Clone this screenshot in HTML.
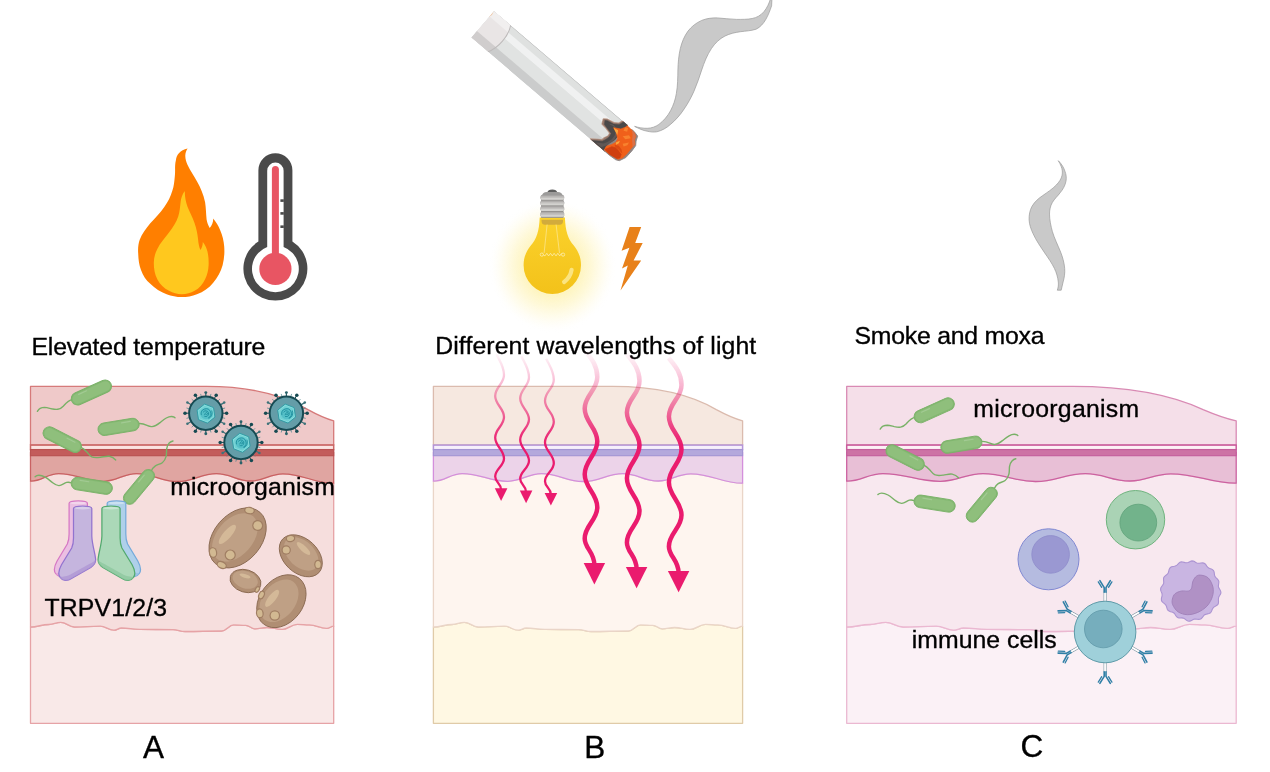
<!DOCTYPE html>
<html><head><meta charset="utf-8"><title>figure</title>
<style>
html,body{margin:0;padding:0;background:#fff;}
body{width:1270px;height:772px;overflow:hidden;}
svg{display:block;will-change:transform;}
text{font-family:"Liberation Sans",sans-serif;fill:#000;stroke:#000;stroke-width:0.35px;}
</style></head><body>
<svg width="1270" height="772" viewBox="0 0 1270 772">
<defs><radialGradient id="glow" cx="0.5" cy="0.5" r="0.5"><stop offset="0" stop-color="#fef4ba" stop-opacity="0.95"/><stop offset="0.45" stop-color="#fef4bc" stop-opacity="0.9"/><stop offset="0.62" stop-color="#fef5c2" stop-opacity="0.62"/><stop offset="0.78" stop-color="#fff7cc" stop-opacity="0.33"/><stop offset="0.9" stop-color="#fff9dc" stop-opacity="0.12"/><stop offset="1" stop-color="#ffffff" stop-opacity="0"/></radialGradient><linearGradient id="bulbg" x1="0" y1="0" x2="0" y2="1"><stop offset="0" stop-color="#fbd22c"/><stop offset="1" stop-color="#f3c21a"/></linearGradient><linearGradient id="screw" x1="0" y1="0" x2="1" y2="0"><stop offset="0" stop-color="#9c9c9c"/><stop offset="0.5" stop-color="#c4c4c4"/><stop offset="1" stop-color="#9c9c9c"/></linearGradient><clipPath id="cigclip"><path d="M0,-17.5 L176,-17.5 L176,17.5 L0,17.5 Z"/></clipPath><linearGradient id="wg1" gradientUnits="userSpaceOnUse" x1="0" y1="350" x2="0" y2="445"><stop offset="0" stop-color="#ea1b6e" stop-opacity="0"/><stop offset="0.2" stop-color="#ea1b6e" stop-opacity="0.17"/><stop offset="0.41" stop-color="#ea1b6e" stop-opacity="0.36"/><stop offset="0.61" stop-color="#ea1b6e" stop-opacity="0.57"/><stop offset="0.82" stop-color="#ea1b6e" stop-opacity="0.82"/><stop offset="1" stop-color="#ea1b6e" stop-opacity="1"/></linearGradient></defs>
<path d="M30.5,627.0 C38.1,627.0 41.1,624.5 48.7,624.5 C53.8,624.5 55.7,622.3 60.8,622.3 C66.6,622.3 68.7,627.0 74.5,627.0 C85.3,627.0 89.4,626.2 100.2,626.2 C106.0,626.2 108.1,630.2 113.9,630.2 C117.1,630.2 118.3,628.0 121.5,628.0 C129.1,628.0 132.0,629.4 139.7,629.4 C153.7,629.4 159.0,629.6 173.0,629.6 C178.1,629.6 180.0,631.5 185.1,631.5 C200.4,631.5 206.2,631.0 221.5,631.0 C226.6,631.0 228.6,624.9 233.6,624.9 C238.7,624.9 240.7,625.3 245.8,625.3 C249.6,625.3 251.0,628.8 254.9,628.8 C260.0,628.8 261.9,627.5 267.0,627.5 C273.4,627.5 275.8,629.4 282.2,629.4 C288.5,629.4 290.9,624.4 297.3,624.4 C302.4,624.4 304.4,624.9 309.4,624.9 C316.7,624.9 319.5,628.4 326.7,628.4 C329.7,628.4 330.8,626.2 333.7,626.2 L333.7,723.3 L30.5,723.3 Z" fill="#f9e9e8" stroke="#e6a3a6" stroke-width="1.3" stroke-linejoin="round"/><path d="M30.5,481.2 C42.3,481.2 46.9,473.6 58.7,473.6 C77.4,473.6 84.5,481.3 103.3,481.3 C117.3,481.3 122.6,473.6 136.6,473.6 C153.8,473.6 160.4,481.5 177.6,481.5 C193.9,481.5 200.1,473.6 216.4,473.6 C230.9,473.6 236.4,481.0 250.9,481.0 C264.3,481.0 269.4,473.8 282.8,473.8 C304.2,473.8 312.3,483.2 333.7,483.2 L333.7,626.2  C330.8,626.2 329.7,628.4 326.7,628.4 C319.5,628.4 316.7,624.9 309.4,624.9 C304.4,624.9 302.4,624.4 297.3,624.4 C290.9,624.4 288.5,629.4 282.2,629.4 C275.8,629.4 273.4,627.5 267.0,627.5 C261.9,627.5 260.0,628.8 254.9,628.8 C251.0,628.8 249.6,625.3 245.8,625.3 C240.7,625.3 238.7,624.9 233.6,624.9 C228.6,624.9 226.6,631.0 221.5,631.0 C206.2,631.0 200.4,631.5 185.1,631.5 C180.0,631.5 178.1,629.6 173.0,629.6 C159.0,629.6 153.7,629.4 139.7,629.4 C132.0,629.4 129.1,628.0 121.5,628.0 C118.3,628.0 117.1,630.2 113.9,630.2 C108.1,630.2 106.0,626.2 100.2,626.2 C89.4,626.2 85.3,627.0 74.5,627.0 C68.7,627.0 66.6,622.3 60.8,622.3 C55.7,622.3 53.8,624.5 48.7,624.5 C41.1,624.5 38.1,627.0 30.5,627.0 Z" fill="#f6dedd" stroke="#e6a3a6" stroke-width="1.3" stroke-linejoin="round"/><path d="M30.5,452 L333.7,452 L333.7,483.2  C312.3,483.2 304.2,473.8 282.8,473.8 C269.4,473.8 264.3,481.0 250.9,481.0 C236.4,481.0 230.9,473.6 216.4,473.6 C200.1,473.6 193.9,481.5 177.6,481.5 C160.4,481.5 153.8,473.6 136.6,473.6 C122.6,473.6 117.3,481.3 103.3,481.3 C84.5,481.3 77.4,473.6 58.7,473.6 C46.9,473.6 42.3,481.2 30.5,481.2 Z" fill="#e0a5a1" stroke="#c96263" stroke-width="1.3" stroke-linejoin="round"/><path d="M30.5,386.4 L206.4,386.4 C254.9,386.4 288.2,397.9 307.9,409.6 C318.5,415.4 327.6,419.2 333.7,420.8 L333.7,445 L30.5,445 Z" fill="#efc9c9" stroke="#d67a7a" stroke-width="1.3" stroke-linejoin="round"/><rect x="30.5" y="445.1" width="303.2" height="4.6" fill="#fbe3e1" stroke="#cb6766" stroke-width="1.5"/><rect x="30.5" y="449.6" width="303.2" height="6.1" fill="#c35c5b" stroke="#b85150" stroke-width="1.1"/>
<path d="M433.4,627.0 C441.2,627.0 444.2,624.5 452.0,624.5 C457.1,624.5 459.1,622.3 464.3,622.3 C470.2,622.3 472.4,627.0 478.2,627.0 C489.3,627.0 493.5,626.2 504.5,626.2 C510.4,626.2 512.6,630.2 518.4,630.2 C521.7,630.2 522.9,628.0 526.2,628.0 C534.0,628.0 536.9,629.4 544.7,629.4 C559.0,629.4 564.4,629.6 578.7,629.6 C583.9,629.6 585.9,631.5 591.1,631.5 C606.7,631.5 612.6,631.0 628.2,631.0 C633.4,631.0 635.4,624.9 640.6,624.9 C645.8,624.9 647.7,625.3 652.9,625.3 C656.8,625.3 658.3,628.8 662.2,628.8 C667.4,628.8 669.4,627.5 674.6,627.5 C681.1,627.5 683.5,629.4 690.0,629.4 C696.5,629.4 699.0,624.4 705.5,624.4 C710.7,624.4 712.7,624.9 717.9,624.9 C725.3,624.9 728.1,628.4 735.5,628.4 C738.5,628.4 739.6,626.2 742.6,626.2 L742.6,723.3 L433.4,723.3 Z" fill="#fff8e3" stroke="#e0cba8" stroke-width="1.3" stroke-linejoin="round"/><path d="M433.4,481.2 C445.5,481.2 450.1,473.6 462.2,473.6 C481.2,473.6 488.5,481.3 507.6,481.3 C521.9,481.3 527.3,473.6 541.6,473.6 C559.2,473.6 565.8,481.5 583.4,481.5 C600.0,481.5 606.3,473.6 622.9,473.6 C637.7,473.6 643.4,481.0 658.2,481.0 C671.8,481.0 677.0,473.8 690.7,473.8 C712.5,473.8 720.8,483.2 742.6,483.2 L742.6,626.2  C739.6,626.2 738.5,628.4 735.5,628.4 C728.1,628.4 725.3,624.9 717.9,624.9 C712.7,624.9 710.7,624.4 705.5,624.4 C699.0,624.4 696.5,629.4 690.0,629.4 C683.5,629.4 681.1,627.5 674.6,627.5 C669.4,627.5 667.4,628.8 662.2,628.8 C658.3,628.8 656.8,625.3 652.9,625.3 C647.7,625.3 645.8,624.9 640.6,624.9 C635.4,624.9 633.4,631.0 628.2,631.0 C612.6,631.0 606.7,631.5 591.1,631.5 C585.9,631.5 583.9,629.6 578.7,629.6 C564.4,629.6 559.0,629.4 544.7,629.4 C536.9,629.4 534.0,628.0 526.2,628.0 C522.9,628.0 521.7,630.2 518.4,630.2 C512.6,630.2 510.4,626.2 504.5,626.2 C493.5,626.2 489.3,627.0 478.2,627.0 C472.4,627.0 470.2,622.3 464.3,622.3 C459.1,622.3 457.1,624.5 452.0,624.5 C444.2,624.5 441.2,627.0 433.4,627.0 Z" fill="#fef5ef" stroke="#ead5c8" stroke-width="1.3" stroke-linejoin="round"/><path d="M433.4,452 L742.6,452 L742.6,483.2  C720.8,483.2 712.5,473.8 690.7,473.8 C677.0,473.8 671.8,481.0 658.2,481.0 C643.4,481.0 637.7,473.6 622.9,473.6 C606.3,473.6 600.0,481.5 583.4,481.5 C565.8,481.5 559.2,473.6 541.6,473.6 C527.3,473.6 521.9,481.3 507.6,481.3 C488.5,481.3 481.2,473.6 462.2,473.6 C450.1,473.6 445.5,481.2 433.4,481.2 Z" fill="#ecd3e9" stroke="#d48fdc" stroke-width="1.3" stroke-linejoin="round"/><path d="M433.4,386.4 L612.7,386.4 C662.2,386.4 696.2,397.9 716.3,409.6 C727.1,415.4 736.4,419.2 742.6,420.8 L742.6,445 L433.4,445 Z" fill="#f6e8e0" stroke="#dbbbae" stroke-width="1.3" stroke-linejoin="round"/><rect x="433.4" y="445.1" width="309.20000000000005" height="4.6" fill="#f6f0fc" stroke="#b594d8" stroke-width="1.5"/><rect x="433.4" y="449.6" width="309.20000000000005" height="6.1" fill="#b4a8dc" stroke="#a394d3" stroke-width="1.1"/>
<path d="M846.7,627.0 C856.5,627.0 860.3,624.5 870.1,624.5 C876.6,624.5 879.1,622.3 885.7,622.3 C893.0,622.3 895.8,627.0 903.2,627.0 C917.1,627.0 922.4,626.2 936.3,626.2 C943.6,626.2 946.5,630.2 953.8,630.2 C957.9,630.2 959.5,628.0 963.6,628.0 C973.4,628.0 977.1,629.4 986.9,629.4 C1004.9,629.4 1011.8,629.6 1029.8,629.6 C1036.3,629.6 1038.8,631.5 1045.3,631.5 C1065.0,631.5 1072.5,631.0 1092.1,631.0 C1098.6,631.0 1101.1,624.9 1107.7,624.9 C1114.2,624.9 1116.7,625.3 1123.2,625.3 C1128.2,625.3 1130.0,628.8 1134.9,628.8 C1141.5,628.8 1144.0,627.5 1150.5,627.5 C1158.7,627.5 1161.8,629.4 1170.0,629.4 C1178.2,629.4 1181.3,624.4 1189.5,624.4 C1196.0,624.4 1198.5,624.9 1205.0,624.9 C1214.4,624.9 1217.9,628.4 1227.2,628.4 C1231.0,628.4 1232.4,626.2 1236.2,626.2 L1236.2,723.3 L846.7,723.3 Z" fill="#fbf1f6" stroke="#ebb8d1" stroke-width="1.3" stroke-linejoin="round"/><path d="M846.7,481.2 C861.9,481.2 867.7,473.6 882.9,473.6 C907.0,473.6 916.1,481.3 940.2,481.3 C958.2,481.3 965.0,473.6 983.0,473.6 C1005.1,473.6 1013.5,481.5 1035.6,481.5 C1056.5,481.5 1064.5,473.6 1085.5,473.6 C1104.1,473.6 1111.2,481.0 1129.9,481.0 C1147.0,481.0 1153.6,473.8 1170.8,473.8 C1198.2,473.8 1208.7,483.2 1236.2,483.2 L1236.2,626.2  C1232.4,626.2 1231.0,628.4 1227.2,628.4 C1217.9,628.4 1214.4,624.9 1205.0,624.9 C1198.5,624.9 1196.0,624.4 1189.5,624.4 C1181.3,624.4 1178.2,629.4 1170.0,629.4 C1161.8,629.4 1158.7,627.5 1150.5,627.5 C1144.0,627.5 1141.5,628.8 1134.9,628.8 C1130.0,628.8 1128.2,625.3 1123.2,625.3 C1116.7,625.3 1114.2,624.9 1107.7,624.9 C1101.1,624.9 1098.6,631.0 1092.1,631.0 C1072.5,631.0 1065.0,631.5 1045.3,631.5 C1038.8,631.5 1036.3,629.6 1029.8,629.6 C1011.8,629.6 1004.9,629.4 986.9,629.4 C977.1,629.4 973.4,628.0 963.6,628.0 C959.5,628.0 957.9,630.2 953.8,630.2 C946.5,630.2 943.6,626.2 936.3,626.2 C922.4,626.2 917.1,627.0 903.2,627.0 C895.8,627.0 893.0,622.3 885.7,622.3 C879.1,622.3 876.6,624.5 870.1,624.5 C860.3,624.5 856.5,627.0 846.7,627.0 Z" fill="#f8e8ef" stroke="#ebb8d1" stroke-width="1.3" stroke-linejoin="round"/><path d="M846.7,452 L1236.2,452 L1236.2,483.2  C1208.7,483.2 1198.2,473.8 1170.8,473.8 C1153.6,473.8 1147.0,481.0 1129.9,481.0 C1111.2,481.0 1104.1,473.6 1085.5,473.6 C1064.5,473.6 1056.5,481.5 1035.6,481.5 C1013.5,481.5 1005.1,473.6 983.0,473.6 C965.0,473.6 958.2,481.3 940.2,481.3 C916.1,481.3 907.0,473.6 882.9,473.6 C867.7,473.6 861.9,481.2 846.7,481.2 Z" fill="#e8bfd6" stroke="#cc62a0" stroke-width="1.3" stroke-linejoin="round"/><path d="M846.7,386.4 L1072.6,386.4 C1134.9,386.4 1177.8,397.9 1203.1,409.6 C1216.7,415.4 1228.4,419.2 1236.2,420.8 L1236.2,445 L846.7,445 Z" fill="#f5dfe9" stroke="#d98ab4" stroke-width="1.3" stroke-linejoin="round"/><rect x="846.7" y="445.1" width="389.5" height="4.6" fill="#fdf1f6" stroke="#ca5c9c" stroke-width="1.5"/><rect x="846.7" y="449.6" width="389.5" height="6.1" fill="#cd72a5" stroke="#c45d9c" stroke-width="1.1"/>
<text x="31.4" y="354.8" font-size="24.8" textLength="234" lengthAdjust="spacing" text-anchor="start">Elevated temperature</text>
<text x="435.2" y="353.6" font-size="24.8" textLength="321" lengthAdjust="spacing" text-anchor="start">Different wavelengths of light</text>
<text x="854.5" y="344.4" font-size="24.8" textLength="190" lengthAdjust="spacing" text-anchor="start">Smoke and moxa</text>
<text x="170.2" y="495.3" font-size="24.8" textLength="164.6" lengthAdjust="spacing" text-anchor="start">microorganism</text>
<text x="973.2" y="416.7" font-size="24.8" textLength="166" lengthAdjust="spacing" text-anchor="start">microorganism</text>
<text x="44.4" y="615.8" font-size="24.8" textLength="122.6" lengthAdjust="spacing" text-anchor="start">TRPV1/2/3</text>
<text x="911.8" y="647.6" font-size="24.8" textLength="144.9" lengthAdjust="spacing" text-anchor="start">immune cells</text>
<text x="143.1" y="758" font-size="31.5" text-anchor="start">A</text>
<text x="584.3" y="758.1" font-size="31.5" text-anchor="start">B</text>
<text x="1020.5" y="757.2" font-size="31.5" text-anchor="start">C</text>
<path d="M187.6,148.6 C180,150 176.5,155 175.9,160.3 C174.5,166 175.5,171 174.8,176.6 C174.3,182 174,186 172.4,190.6 C170.5,197 168,202 164.3,206.9 C160,213 155,218 150.3,223.2 C146,228.5 142,233.5 139.8,239.6 C138.2,244 137.8,249 138.2,253.5 C138.4,259.5 139,265 141,269.9 C143,275.5 146,280 150.3,283.8 C155,288.5 160.5,292 166.6,294.3 C171.5,296.2 176.5,297.1 181.8,297.1 C187,297.1 192,296.3 196.9,294.3 C203.5,291.8 209,288 213.2,282.7 C217.5,277.5 220.8,271.8 222.6,265.2 C224.2,259 224.7,252.8 224.2,246.6 C223.8,241 222.5,235.5 220.2,230.2 C218.5,226 216,222 213.2,218.6 C213.3,222 212,225.3 209.7,227.9 C208,225 207.2,222.5 206.6,219.5 C206,213.5 206,208 205.1,202.3 C203.5,194.5 200.5,187.5 196.9,181.3 C194,176 190.3,170.8 187.6,165 C186.2,162 185.2,159 185.3,155.6 C185.4,152.8 186.3,150.5 187.6,148.6 Z" fill="#ff7f00"/><path d="M184.8,191.1 C182.2,194.5 181,198.3 180.6,202.3 C180,207 179.8,211.5 178.3,216.2 C176.3,222.3 172.8,227.5 169,232.6 C165,238 160.3,243 157.3,248.9 C155,253.3 153.8,258 153.8,262.9 C153.8,268.8 154.8,274.3 157.3,279.2 C160,284.5 164,288.3 169,290.8 C173,292.9 177.3,294.3 181.8,294.3 C186.4,294.3 190.7,293 194.6,290.8 C199.2,288.2 202.8,284.3 205.1,279.2 C207.2,274.8 208.4,270.2 208.6,265.2 C208.8,260.4 208.5,255.7 207.4,251.2 C206.5,247.7 204.9,244.6 202.8,241.9 C202.8,245 202,247.7 200.4,250 C199,246.7 198.4,243.2 198.1,239.6 C197.5,233.8 196.5,228.4 194.6,223.2 C192.7,217.5 189.8,212.3 187.6,206.9 C185.8,202 184.7,196.8 184.8,191.1 Z" fill="#ffc81e"/><path d="M258.4,170.3 A17,17 0 0 1 292.4,170.3 L292.4,241.5 A32,32 0 1 1 258.4,241.5 Z" fill="#4a4a4a"/><path d="M267.2,170.8 A8.2,8.2 0 0 1 283.59999999999997,170.8 L283.59999999999997,247 A23.4,23.4 0 1 1 267.2,247 Z" fill="#ffffff"/><circle cx="275.4" cy="268.9" r="16.1" fill="#e85563"/><path d="M271.9,169.6 A3.5,3.5 0 0 1 278.9,169.6 L278.9,260 L271.9,260 Z" fill="#e85563"/><rect x="280.4" y="199.29999999999998" width="3.4" height="2.6" fill="#4a4a4a"/><rect x="280.4" y="212.1" width="3.4" height="2.6" fill="#4a4a4a"/><rect x="280.4" y="225.39999999999998" width="3.4" height="2.6" fill="#4a4a4a"/><ellipse cx="552.5" cy="266" rx="64" ry="67" fill="url(#glow)"/><path d="M539.6999999999999,217.4 L564.9,217.4 C565.5,231 567.8,238.5 573.8,245.5 C578.3,251 581.0,257.5 581.0,265.2 A28.7,28.7 0 0 1 523.5999999999999,265.2 C523.5999999999999,257.5 526.3,251 530.8,245.5 C536.8,238.5 539.0999999999999,231 539.6999999999999,217.4 Z" fill="url(#bulbg)"/><path d="M541.5,219.7 L563.0999999999999,219.7 L563.0,221.8 Q562.5999999999999,224.7 559.8,224.7 L544.8,224.7 Q542.0,224.7 541.5999999999999,221.8 Z" fill="#d2ab3c"/><path d="M547.0999999999999,224.6 L544.0999999999999,253 M556.0999999999999,224.6 L559.5,253" stroke="#fbe48a" stroke-width="0.8" fill="none"/><path d="M543.0999999999999,254.6 L544.9,255.9 L546.8,253.3 L548.6,255.9 L550.5,253.3 L552.3,255.9 L554.1,253.3 L556.0,255.9 L557.8,253.3 L559.7,255.9 L561.5,253.3 " stroke="#fdeeb0" stroke-width="0.8" fill="none"/><circle cx="541.8" cy="254.6" r="1.6" fill="none" stroke="#fdeeb0" stroke-width="0.8"/><circle cx="563.0999999999999" cy="254.6" r="1.6" fill="none" stroke="#fdeeb0" stroke-width="0.8"/><path d="M571.5999999999999,269.8 C570.9,274.5 568.0999999999999,279 564.0999999999999,282" stroke="#fbe480" stroke-width="4.2" stroke-linecap="round" fill="none"/><path d="M547.3,192.6 Q547.9,189.5 552.3,189.5 Q556.6999999999999,189.5 557.3,192.6 Z" fill="#5e5e5e"/><path d="M541.6999999999999,196 Q542.6999999999999,191.9 546.8,191.9 L557.8,191.9 Q561.9,191.9 562.9,196 Z" fill="#9b9a99"/><rect x="541.0999999999999" y="195.2" width="22.4" height="22.6" fill="#8d8b89"/><rect x="540.3" y="195.2" width="24" height="4.5" rx="1.8" fill="#aeacaa"/><rect x="540.5999999999999" y="197.4" width="23.4" height="2.3" rx="1.2" fill="#d3d2cf"/><rect x="540.5999999999999" y="196.5" width="23.4" height="1.4" fill="#c2c0be"/><rect x="540.3" y="200.4" width="24" height="5.1" rx="1.8" fill="#aeacaa"/><rect x="540.5999999999999" y="202.8" width="23.4" height="2.5" rx="1.2" fill="#d3d2cf"/><rect x="540.5999999999999" y="201.9" width="23.4" height="1.5" fill="#c2c0be"/><rect x="540.3" y="206.2" width="24" height="4.8" rx="1.8" fill="#aeacaa"/><rect x="540.5999999999999" y="208.5" width="23.4" height="2.4" rx="1.2" fill="#d3d2cf"/><rect x="540.5999999999999" y="207.6" width="23.4" height="1.4" fill="#c2c0be"/><rect x="540.3" y="211.7" width="24" height="5.3" rx="1.8" fill="#aeacaa"/><rect x="540.5999999999999" y="214.2" width="23.4" height="2.6" rx="1.2" fill="#d3d2cf"/><rect x="540.5999999999999" y="213.3" width="23.4" height="1.6" fill="#c2c0be"/><path d="M629.6,227 L641.2,227 L635.2,243 L642.7,243 L633.6,260.6 L641.2,260.6 L620.5,290.6 L627.8,265.6 L622,268.4 L629.4,247.8 L621.6,250.8 Z" fill="#e8811a"/><path d="M634.6,126.4 C639,128.6 643,130.6 647.2,131.2 C650.5,132 653.8,132.3 656.9,131.8 C662,130.5 666.5,128 670.5,124.4 C676,119.8 680.5,114.5 684.2,108.9 C688,103.3 691.2,97.5 693.9,91.4 C697,84.4 699.3,77.2 701.7,70 C704.2,62.6 707,55.2 711.4,48.6 C715,43.2 719.5,38.8 725,36 C730,33.6 735.3,32.4 740.5,31.7 C745.8,31 751.3,30.8 756.1,29.2 C760.3,27.2 763.4,23.6 765.8,19.4 C768.3,15.2 770,10.5 771.6,5.8 L772,-2 L770.7,-2 C769.2,3.4 767,8 763.9,11.7 C760.7,15.5 756.8,17.6 752.2,18.5 C747,19.5 741.8,19.4 736.6,19.4 C730,19.3 723.6,18.2 717.2,17.9 C711.8,17.7 706.5,18.5 701.7,20.4 C696.3,22.8 691.6,26.4 688,31.1 C684.3,36.2 681.8,42.2 680.3,48.6 C678.7,55.6 678.1,62.8 677.9,70 C677.8,77.8 677.7,85.6 676.4,93.3 C675.4,99.5 673.4,105.4 670.5,110.8 C667.5,116.3 663.6,120.8 658.9,124.4 C655.5,126.8 651.5,128.2 647.2,128.3 C643,128.4 638.8,127.6 634.6,126.4 Z" fill="#c9c9c9" stroke="#9b9b9b" stroke-width="0.7"/><path d="M1058.3,160.7 C1061.5,163.8 1063.8,167.5 1065,171.4 C1066.2,174.5 1066.6,177.8 1066,181.1 C1065.2,185.5 1063,189.3 1060.2,192.7 C1057.7,196 1054.5,198.8 1052.4,202.4 C1050.3,206 1049.5,210 1049.5,214.1 C1049.6,220 1050.8,225.8 1052.4,231.6 C1054.4,238.2 1057.5,244.5 1060.2,251 C1062.5,256.6 1064.2,262.4 1064.7,268.4 C1065,273 1064.4,277.5 1063.1,282 C1062.4,284.8 1061.8,287.5 1061.2,290.2 L1057.3,290.2 C1058.3,287.5 1058.6,284.8 1058.3,282 C1057.8,277.2 1056.5,272.7 1054.4,268.4 C1051.8,263 1048.2,258 1044.7,252.9 C1040.5,246.6 1036,240.3 1033,233.5 C1031,229.2 1029.3,224.6 1029.1,219.9 C1028.9,215 1029.8,210.4 1032,206.3 C1034.6,201.8 1038.5,198.4 1042.7,195.6 C1047.3,192.3 1052.3,189.2 1056.3,185 C1059,182.2 1061.3,179 1062.1,175.2 C1062.7,172.2 1062.3,169.2 1061.2,166.5 C1060.5,164.5 1059.4,162.5 1058.3,160.7 Z" fill="#c9c9c9" stroke="#9b9b9b" stroke-width="0.7"/>
<g transform="translate(482.6,24.2) rotate(40.5)"><g clip-path="url(#cigclip)"><rect x="0" y="-17.5" width="176" height="35" fill="#e1e3e2"/><rect x="0" y="-17.5" width="176" height="7.1" fill="#dfe1e0"/><rect x="0" y="-10.4" width="176" height="7.1" fill="#f0f1f1"/><rect x="0" y="-3.3" width="176" height="12.1" fill="#e1e3e2"/><rect x="0" y="8.8" width="176" height="8.7" fill="#cbcccc"/><rect x="0" y="-17.5" width="176" height="0.7" fill="#bdbdbd"/><path d="M0,-17.5 L22,-17.5 C27.5,-8 27.5,8 22,17.5 L0,17.5 Z" fill="#e9e5e5"/><path d="M0,-17.5 L22,-17.5 C23.6,-15 24.6,-12.8 25.2,-10.4 L0,-10.4 Z" fill="#f1efef"/><path d="M0,8.8 L25.6,8.8 C24.9,12 23.6,15 22,17.5 L0,17.5 Z" fill="#d0cdcd"/><path d="M22,-17.5 C27.5,-8 27.5,8 22,17.5" fill="none" stroke="#bdbaba" stroke-width="1"/><path d="M0,-17.5 L0,-9 L1.2,-13 Z" fill="#f0c8a8"/><path d="M169.9,-17.8 L168.4,-12.9 L163.8,-9.8 L156.8,-8.3 L154,-6.2 L156.1,-2.1 L161.3,-1.7 L167.9,-0.2 L168.6,3.4 L166.6,8.1 L166.4,10.6 L163,12.9 L157,17.5 L178,17.5 L178,-17.8 Z" fill="#bb9a89" stroke="#bb9a89" stroke-width="2.4" stroke-linejoin="round"/><path d="M169.9,-17.8 L168.4,-12.9 L163.8,-9.8 L156.8,-8.3 L154,-6.2 L156.1,-2.1 L161.3,-1.7 L167.9,-0.2 L168.6,3.4 L166.6,8.1 L166.4,10.6 L163,12.9 L157,17.5 L178,17.5 L178,-17.8 Z" fill="#957669" stroke="#957669" stroke-width="0.9" stroke-linejoin="round"/><path d="M170.8,-17.6 L169,-12.2 L164.4,-9.1 L157.4,-7.6 L155.5,-6.3 L157.8,-2.9 L162.2,-1.9 L168.9,-0.4 L169.5,3.8 L168.2,8.5 L167,11.3 L158.5,17.5 L178,17.5 L178,-17.6 Z" fill="#4b4949" stroke="#4b4949" stroke-width="0.5" stroke-linejoin="round"/><path d="M160,-6.2 L166,-7.4 L170.5,-5.2 L172.6,-1.5 L173,3.5 L171.5,8.5 L169.5,12 L163,16.5 L170,16.5 L174,10 L175.5,3 L174,-3 L170,-7.5 L165,-8.6 Z" fill="#6a5f5c" opacity="0.7"/></g><path d="M182,-17 L186.2,-16.6 L190.6,-15.6 L192.6,-10.8 L195.3,-7 L195.8,-0.3 L195.5,8.4 L192.6,15 L189.4,16.6 L181.4,17.3 L174.3,17.2 L174,10 Z" fill="#8e8584" stroke="#8e8584" stroke-width="0.8" stroke-linejoin="round"/><path d="M175.9,-16.8 L180.8,-16.5 L186.2,-15.8 L189.3,-14.3 L190.6,-10.6 L193.9,-7.5 L193.7,-1.4 L193.9,4.4 L193.4,10.8 L190.8,14.8 L186.6,15.4 L181.4,16.3 L174.3,16.6 L173.3,12.5 L176.3,7.6 L177.9,3.2 L177.2,-0.4 L172.1,-4.4 L166.8,-6.4 L173.2,-10.1 L175.4,-14.4 Z" fill="#f0601a" stroke="#f0601a" stroke-width="0.6" stroke-linejoin="round"/><path d="M174.4,15.8 L177.8,9.3 L181,7.6 L185,7.9 L190,9 L191.2,12.5 L189.2,15 L181.4,16.3 Z" fill="#cf3f10" stroke="#cf3f10" stroke-width="0.6" stroke-linejoin="round"/><path d="M178.5,6 L182.5,4 L187,5 L190.5,7.8 L185,7 L181,7.2 Z" fill="#dc4a12"/><path d="M182,-16.4 L186.2,-15.8 L189.3,-14.3 L190.6,-10.6 L193.9,-7.5 L193.9,-3.9 L188.9,-9.1 L185.7,-13.6 Z" fill="#d9714a"/><path d="M166.8,-6.4 L172,-7.3 L174.4,-3.3 L170.4,-4.7 Z M178.2,3.5 L180,-0.6 L181,2.1 L179.7,4.9 Z" fill="#fba63c"/><path d="M179.3,-5.7 L183.4,-10.7 L186.7,-9.6 L183.2,-5.3 Z M184.1,-0.1 L188.2,-5 L188.7,-1.9 L186.6,1.4 Z M175.4,-14.4 L178.1,-15.5 L179.8,-12.1 L176.4,-10.4 Z" fill="#f8822e"/></g><path d="M496.4,354.0 C499.1,360.0 504.0,366.0 504.0,375.0 C504.0,383.8 495.2,387.2 495.2,396.0 C495.2,404.8 504.0,408.2 504.0,417.0 C504.0,425.6 495.2,428.9 495.2,437.5 C495.2,446.3 504.0,449.7 504.0,458.5 C504.0,466.1 495.2,468.9 495.2,476.5 C495.2,482.5 501.0,483.0 501.0,489.5" fill="none" stroke="url(#wg1)" stroke-width="2.3"/><path d="M494.8,488.3 L507.4,488.3 L501.1,500.9 Z" fill="#ea1b6e"/><path d="M521.4,356.3 C524.1,362.3 529.0,368.3 529.0,377.3 C529.0,386.1 520.2,389.5 520.2,398.3 C520.2,407.1 529.0,410.5 529.0,419.3 C529.0,427.9 520.2,431.2 520.2,439.8 C520.2,448.6 529.0,452.0 529.0,460.8 C529.0,468.4 520.2,471.2 520.2,478.8 C520.2,484.8 526.0,485.3 526.0,491.8" fill="none" stroke="url(#wg1)" stroke-width="2.3"/><path d="M519.8,490.6 L532.4,490.6 L526.1,503.2 Z" fill="#ea1b6e"/><path d="M546.2,358.7 C548.9,364.7 553.8,370.7 553.8,379.7 C553.8,388.5 545.0,391.9 545.0,400.7 C545.0,409.5 553.8,412.9 553.8,421.7 C553.8,430.3 545.0,433.6 545.0,442.2 C545.0,451.0 553.8,454.4 553.8,463.2 C553.8,470.8 545.0,473.6 545.0,481.2 C545.0,487.2 550.8,487.7 550.8,494.2" fill="none" stroke="url(#wg1)" stroke-width="2.3"/><path d="M544.6,493.0 L557.2,493.0 L550.9,505.6 Z" fill="#ea1b6e"/><path d="M584.5,350.0 C589.0,356.0 597.3,364.0 597.3,377.0 C597.3,390.2 584.7,395.3 584.7,408.5 C584.7,422.3 597.3,427.5 597.3,441.3 C597.3,455.2 584.7,460.4 584.7,474.3 C584.7,488.1 597.3,493.4 597.3,507.2 C597.3,520.3 584.7,525.4 584.7,538.5 C584.7,548.5 594.4,552.0 594.4,565.0" fill="none" stroke="url(#wg1)" stroke-width="4.5"/><path d="M583.7,563.0 L605.1,563.0 L594.4,584.4 Z" fill="#ea1b6e"/><path d="M626.7,353.9 C631.2,359.9 639.5,367.9 639.5,380.9 C639.5,394.1 626.9,399.2 626.9,412.4 C626.9,426.2 639.5,431.4 639.5,445.2 C639.5,459.1 626.9,464.3 626.9,478.2 C626.9,492.0 639.5,497.3 639.5,511.1 C639.5,524.2 626.9,529.3 626.9,542.4 C626.9,552.4 636.6,555.9 636.6,568.9" fill="none" stroke="url(#wg1)" stroke-width="4.5"/><path d="M625.9,566.9 L647.3,566.9 L636.6,588.3 Z" fill="#ea1b6e"/><path d="M668.7,357.9 C673.2,363.9 681.5,371.9 681.5,384.9 C681.5,398.1 668.9,403.2 668.9,416.4 C668.9,430.2 681.5,435.4 681.5,449.2 C681.5,463.1 668.9,468.3 668.9,482.2 C668.9,496.0 681.5,501.3 681.5,515.1 C681.5,528.2 668.9,533.3 668.9,546.4 C668.9,556.4 678.6,559.9 678.6,572.9" fill="none" stroke="url(#wg1)" stroke-width="4.5"/><path d="M667.9,570.9 L689.3,570.9 L678.6,592.3 Z" fill="#ea1b6e"/><g id="bact"><path d="M72.5,399.6 C68.5,400 66,403 63.5,405.9 C61.5,408 60,409 57.8,409.3 C55.5,409.6 53.5,409.2 51.5,408.8 C49,408.2 47,407.5 44.6,407.4 C43,407.4 41.5,407.7 40.2,408.4 C39,409.1 38.1,410.2 37.4,411.3" fill="none" stroke="#78b166" stroke-width="1.4" stroke-linecap="round"/><path d="M138.5,423.6 C142,423.3 144.5,424.2 147,425.4 C148.6,426.2 150,426.8 152,426.6 C155,426.3 157.5,424.6 160,422.6 C162,421 164,419.3 166.3,418 C168.5,416.8 171,416.2 173,416.7 C173.8,416.9 174.5,417.2 175,417.7" fill="none" stroke="#78b166" stroke-width="1.4" stroke-linecap="round"/><path d="M81,447.4 C83.5,448.5 85.3,450.3 86.8,451.9 C88.5,453.8 89.8,455.8 91.8,456.9 C94.5,458.2 97.6,457.7 100.6,457.3 C103.6,456.9 106.6,455.8 109.4,456.3 C112,456.8 114.2,458.2 115.7,460" fill="none" stroke="#78b166" stroke-width="1.4" stroke-linecap="round"/><path d="M71.5,482.8 C69.8,482.2 68,482 66.6,482.4 C64,483.2 61.8,485.4 59,485.6 C56.6,485.7 54.6,484.3 52.7,482.8 C50,480.8 47.8,478.6 45.2,477.2 C43.2,476.1 41,475.3 38.9,475.3 C37.4,475.3 36,475.9 35.1,476.8" fill="none" stroke="#78b166" stroke-width="1.4" stroke-linecap="round"/><path d="M151.5,470.8 C152.4,468.4 153.6,467 155.4,465.8 C157.6,464.5 160.2,464.2 162.3,462.7 C164.4,461.2 165.5,458.8 166.1,456.4 C166.8,453.8 166.4,451.2 166.7,448.8 C167,446.6 167.8,444.6 169.2,443.1 C170.3,442 171.6,441.3 173,441" fill="none" stroke="#78b166" stroke-width="1.4" stroke-linecap="round"/><g transform="translate(91.4,392.5) rotate(-24.3)"><rect x="-21.5" y="-6.3" width="43" height="12.6" rx="6.3" fill="#84b872" stroke="#7ab268" stroke-width="0.9"/><rect x="-20.2" y="-5.0" width="40.4" height="10.0" rx="5.0" fill="#8fbf7c"/><rect x="-13" y="-4.1" width="10" height="1.2" rx="0.6" fill="#a6cd98" opacity="0.8"/></g><g transform="translate(118.6,426.9) rotate(-9.3)"><rect x="-20.8" y="-6.3" width="41.6" height="12.6" rx="6.3" fill="#84b872" stroke="#7ab268" stroke-width="0.9"/><rect x="-19.5" y="-5.0" width="39.0" height="10.0" rx="5.0" fill="#8fbf7c"/><rect x="3" y="-4.1" width="10" height="1.2" rx="0.6" fill="#a6cd98" opacity="0.8"/></g><g transform="translate(62.3,439.7) rotate(27)"><rect x="-20.8" y="-6.3" width="41.6" height="12.6" rx="6.3" fill="#84b872" stroke="#7ab268" stroke-width="0.9"/><rect x="-19.5" y="-5.0" width="39.0" height="10.0" rx="5.0" fill="#8fbf7c"/><rect x="3" y="-4.1" width="10" height="1.2" rx="0.6" fill="#a6cd98" opacity="0.8"/></g><g transform="translate(91.8,485.8) rotate(9)"><rect x="-20.8" y="-6.3" width="41.6" height="12.6" rx="6.3" fill="#84b872" stroke="#7ab268" stroke-width="0.9"/><rect x="-19.5" y="-5.0" width="39.0" height="10.0" rx="5.0" fill="#8fbf7c"/><rect x="-13" y="-4.1" width="10" height="1.2" rx="0.6" fill="#a6cd98" opacity="0.8"/></g><g transform="translate(139,486.9) rotate(-50.2)"><rect x="-20.8" y="-6.3" width="41.6" height="12.6" rx="6.3" fill="#84b872" stroke="#7ab268" stroke-width="0.9"/><rect x="-19.5" y="-5.0" width="39.0" height="10.0" rx="5.0" fill="#8fbf7c"/><rect x="3" y="-4.1" width="10" height="1.2" rx="0.6" fill="#a6cd98" opacity="0.8"/></g></g><use href="#bact" transform="translate(842.8,17.8)"/><g transform="translate(205.8,413.2)"><line x1="0.0" y1="-16.7" x2="0.0" y2="-20.6" stroke="#2a626a" stroke-width="1.2"/><circle cx="0.0" cy="-20.6" r="1.45" fill="#2a626a"/><line x1="8.4" y1="-14.5" x2="10.4" y2="-18.0" stroke="#164a52" stroke-width="1"/><circle cx="10.4" cy="-18.0" r="1.75" fill="#164a52"/><line x1="14.5" y1="-8.3" x2="18.4" y2="-10.6" stroke="#3d7279" stroke-width="1.3"/><circle cx="18.4" cy="-10.6" r="1.25" fill="#3d7279"/><line x1="16.7" y1="0.0" x2="20.8" y2="0.0" stroke="#164a52" stroke-width="1"/><circle cx="20.8" cy="0.0" r="1.75" fill="#164a52"/><line x1="14.5" y1="8.3" x2="18.4" y2="10.6" stroke="#3d7279" stroke-width="1.3"/><circle cx="18.4" cy="10.6" r="1.25" fill="#3d7279"/><line x1="8.4" y1="14.5" x2="10.4" y2="18.0" stroke="#164a52" stroke-width="1"/><circle cx="10.4" cy="18.0" r="1.75" fill="#164a52"/><line x1="0.0" y1="16.7" x2="0.0" y2="20.6" stroke="#2a626a" stroke-width="1.2"/><circle cx="0.0" cy="20.6" r="1.45" fill="#2a626a"/><line x1="-8.3" y1="14.5" x2="-10.4" y2="18.0" stroke="#164a52" stroke-width="1"/><circle cx="-10.4" cy="18.0" r="1.75" fill="#164a52"/><line x1="-14.5" y1="8.3" x2="-18.4" y2="10.6" stroke="#3d7279" stroke-width="1.3"/><circle cx="-18.4" cy="10.6" r="1.25" fill="#3d7279"/><line x1="-16.7" y1="0.0" x2="-20.8" y2="0.0" stroke="#164a52" stroke-width="1"/><circle cx="-20.8" cy="0.0" r="1.75" fill="#164a52"/><line x1="-14.5" y1="-8.4" x2="-18.4" y2="-10.7" stroke="#3d7279" stroke-width="1.3"/><circle cx="-18.4" cy="-10.7" r="1.25" fill="#3d7279"/><line x1="-8.4" y1="-14.5" x2="-10.4" y2="-18.0" stroke="#164a52" stroke-width="1"/><circle cx="-10.4" cy="-18.0" r="1.75" fill="#164a52"/><line x1="4.3" y1="-16.1" x2="5.2" y2="-19.3" stroke="#4f868d" stroke-width="0.75"/><line x1="11.8" y1="-11.8" x2="14.1" y2="-14.1" stroke="#4f868d" stroke-width="0.75"/><line x1="16.1" y1="-4.3" x2="19.3" y2="-5.2" stroke="#4f868d" stroke-width="0.75"/><line x1="16.1" y1="4.3" x2="19.3" y2="5.2" stroke="#4f868d" stroke-width="0.75"/><line x1="11.8" y1="11.8" x2="14.1" y2="14.1" stroke="#4f868d" stroke-width="0.75"/><line x1="4.3" y1="16.1" x2="5.2" y2="19.3" stroke="#4f868d" stroke-width="0.75"/><line x1="-4.3" y1="16.1" x2="-5.2" y2="19.3" stroke="#4f868d" stroke-width="0.75"/><line x1="-11.8" y1="11.8" x2="-14.1" y2="14.1" stroke="#4f868d" stroke-width="0.75"/><line x1="-16.1" y1="4.3" x2="-19.3" y2="5.2" stroke="#4f868d" stroke-width="0.75"/><line x1="-16.1" y1="-4.3" x2="-19.3" y2="-5.2" stroke="#4f868d" stroke-width="0.75"/><line x1="-11.8" y1="-11.8" x2="-14.1" y2="-14.1" stroke="#4f868d" stroke-width="0.75"/><line x1="-4.3" y1="-16.1" x2="-5.2" y2="-19.3" stroke="#4f868d" stroke-width="0.75"/><circle r="16.7" fill="#649da8" stroke="#164a52" stroke-width="1.95"/><polygon points="-1.4,-9.5 7.5,-6.0 8.9,3.5 1.4,9.5 -7.5,6.0 -8.9,-3.5" fill="#86dcdc" stroke="#2a98a3" stroke-width="0.9" transform="translate(0.2,0.4)"/><polygon points="-1.2,-7.9 6.3,-5.0 7.4,2.9 1.2,7.9 -6.3,5.0 -7.4,-2.9" fill="#6fd0d3" transform="translate(0.2,0.4)"/><circle cx="0.2" cy="0.4" r="5.6" fill="#3fb3c0" opacity="0.55"/><path d="M-4.6,1.5 A4.9,4.9 0 1 1 2.5,4.8 M-2.6,-1.2 A3,3 0 1 1 -1,3.4 M-1.2,1.6 C-0.6,-0.4 0.6,-1.4 1.6,-0.2 C2.2,0.8 1.2,2 0.2,1.4 M3.2,5.2 A6.4,6.4 0 0 0 6,-2.4" fill="none" stroke="#1c8d9c" stroke-width="0.85" stroke-linecap="round"/></g><g transform="translate(241,442.4)"><line x1="0.0" y1="-16.7" x2="0.0" y2="-20.6" stroke="#2a626a" stroke-width="1.2"/><circle cx="0.0" cy="-20.6" r="1.45" fill="#2a626a"/><line x1="8.4" y1="-14.5" x2="10.4" y2="-18.0" stroke="#164a52" stroke-width="1"/><circle cx="10.4" cy="-18.0" r="1.75" fill="#164a52"/><line x1="14.5" y1="-8.3" x2="18.4" y2="-10.6" stroke="#3d7279" stroke-width="1.3"/><circle cx="18.4" cy="-10.6" r="1.25" fill="#3d7279"/><line x1="16.7" y1="0.0" x2="20.8" y2="0.0" stroke="#164a52" stroke-width="1"/><circle cx="20.8" cy="0.0" r="1.75" fill="#164a52"/><line x1="14.5" y1="8.3" x2="18.4" y2="10.6" stroke="#3d7279" stroke-width="1.3"/><circle cx="18.4" cy="10.6" r="1.25" fill="#3d7279"/><line x1="8.4" y1="14.5" x2="10.4" y2="18.0" stroke="#164a52" stroke-width="1"/><circle cx="10.4" cy="18.0" r="1.75" fill="#164a52"/><line x1="0.0" y1="16.7" x2="0.0" y2="20.6" stroke="#2a626a" stroke-width="1.2"/><circle cx="0.0" cy="20.6" r="1.45" fill="#2a626a"/><line x1="-8.3" y1="14.5" x2="-10.4" y2="18.0" stroke="#164a52" stroke-width="1"/><circle cx="-10.4" cy="18.0" r="1.75" fill="#164a52"/><line x1="-14.5" y1="8.3" x2="-18.4" y2="10.6" stroke="#3d7279" stroke-width="1.3"/><circle cx="-18.4" cy="10.6" r="1.25" fill="#3d7279"/><line x1="-16.7" y1="0.0" x2="-20.8" y2="0.0" stroke="#164a52" stroke-width="1"/><circle cx="-20.8" cy="0.0" r="1.75" fill="#164a52"/><line x1="-14.5" y1="-8.4" x2="-18.4" y2="-10.7" stroke="#3d7279" stroke-width="1.3"/><circle cx="-18.4" cy="-10.7" r="1.25" fill="#3d7279"/><line x1="-8.4" y1="-14.5" x2="-10.4" y2="-18.0" stroke="#164a52" stroke-width="1"/><circle cx="-10.4" cy="-18.0" r="1.75" fill="#164a52"/><line x1="4.3" y1="-16.1" x2="5.2" y2="-19.3" stroke="#4f868d" stroke-width="0.75"/><line x1="11.8" y1="-11.8" x2="14.1" y2="-14.1" stroke="#4f868d" stroke-width="0.75"/><line x1="16.1" y1="-4.3" x2="19.3" y2="-5.2" stroke="#4f868d" stroke-width="0.75"/><line x1="16.1" y1="4.3" x2="19.3" y2="5.2" stroke="#4f868d" stroke-width="0.75"/><line x1="11.8" y1="11.8" x2="14.1" y2="14.1" stroke="#4f868d" stroke-width="0.75"/><line x1="4.3" y1="16.1" x2="5.2" y2="19.3" stroke="#4f868d" stroke-width="0.75"/><line x1="-4.3" y1="16.1" x2="-5.2" y2="19.3" stroke="#4f868d" stroke-width="0.75"/><line x1="-11.8" y1="11.8" x2="-14.1" y2="14.1" stroke="#4f868d" stroke-width="0.75"/><line x1="-16.1" y1="4.3" x2="-19.3" y2="5.2" stroke="#4f868d" stroke-width="0.75"/><line x1="-16.1" y1="-4.3" x2="-19.3" y2="-5.2" stroke="#4f868d" stroke-width="0.75"/><line x1="-11.8" y1="-11.8" x2="-14.1" y2="-14.1" stroke="#4f868d" stroke-width="0.75"/><line x1="-4.3" y1="-16.1" x2="-5.2" y2="-19.3" stroke="#4f868d" stroke-width="0.75"/><circle r="16.7" fill="#649da8" stroke="#164a52" stroke-width="1.95"/><polygon points="-1.4,-9.5 7.5,-6.0 8.9,3.5 1.4,9.5 -7.5,6.0 -8.9,-3.5" fill="#86dcdc" stroke="#2a98a3" stroke-width="0.9" transform="translate(0.2,0.4)"/><polygon points="-1.2,-7.9 6.3,-5.0 7.4,2.9 1.2,7.9 -6.3,5.0 -7.4,-2.9" fill="#6fd0d3" transform="translate(0.2,0.4)"/><circle cx="0.2" cy="0.4" r="5.6" fill="#3fb3c0" opacity="0.55"/><path d="M-4.6,1.5 A4.9,4.9 0 1 1 2.5,4.8 M-2.6,-1.2 A3,3 0 1 1 -1,3.4 M-1.2,1.6 C-0.6,-0.4 0.6,-1.4 1.6,-0.2 C2.2,0.8 1.2,2 0.2,1.4 M3.2,5.2 A6.4,6.4 0 0 0 6,-2.4" fill="none" stroke="#1c8d9c" stroke-width="0.85" stroke-linecap="round"/></g><g transform="translate(286.4,413.2)"><line x1="0.0" y1="-16.7" x2="0.0" y2="-20.6" stroke="#2a626a" stroke-width="1.2"/><circle cx="0.0" cy="-20.6" r="1.45" fill="#2a626a"/><line x1="8.4" y1="-14.5" x2="10.4" y2="-18.0" stroke="#164a52" stroke-width="1"/><circle cx="10.4" cy="-18.0" r="1.75" fill="#164a52"/><line x1="14.5" y1="-8.3" x2="18.4" y2="-10.6" stroke="#3d7279" stroke-width="1.3"/><circle cx="18.4" cy="-10.6" r="1.25" fill="#3d7279"/><line x1="16.7" y1="0.0" x2="20.8" y2="0.0" stroke="#164a52" stroke-width="1"/><circle cx="20.8" cy="0.0" r="1.75" fill="#164a52"/><line x1="14.5" y1="8.3" x2="18.4" y2="10.6" stroke="#3d7279" stroke-width="1.3"/><circle cx="18.4" cy="10.6" r="1.25" fill="#3d7279"/><line x1="8.4" y1="14.5" x2="10.4" y2="18.0" stroke="#164a52" stroke-width="1"/><circle cx="10.4" cy="18.0" r="1.75" fill="#164a52"/><line x1="0.0" y1="16.7" x2="0.0" y2="20.6" stroke="#2a626a" stroke-width="1.2"/><circle cx="0.0" cy="20.6" r="1.45" fill="#2a626a"/><line x1="-8.3" y1="14.5" x2="-10.4" y2="18.0" stroke="#164a52" stroke-width="1"/><circle cx="-10.4" cy="18.0" r="1.75" fill="#164a52"/><line x1="-14.5" y1="8.3" x2="-18.4" y2="10.6" stroke="#3d7279" stroke-width="1.3"/><circle cx="-18.4" cy="10.6" r="1.25" fill="#3d7279"/><line x1="-16.7" y1="0.0" x2="-20.8" y2="0.0" stroke="#164a52" stroke-width="1"/><circle cx="-20.8" cy="0.0" r="1.75" fill="#164a52"/><line x1="-14.5" y1="-8.4" x2="-18.4" y2="-10.7" stroke="#3d7279" stroke-width="1.3"/><circle cx="-18.4" cy="-10.7" r="1.25" fill="#3d7279"/><line x1="-8.4" y1="-14.5" x2="-10.4" y2="-18.0" stroke="#164a52" stroke-width="1"/><circle cx="-10.4" cy="-18.0" r="1.75" fill="#164a52"/><line x1="4.3" y1="-16.1" x2="5.2" y2="-19.3" stroke="#4f868d" stroke-width="0.75"/><line x1="11.8" y1="-11.8" x2="14.1" y2="-14.1" stroke="#4f868d" stroke-width="0.75"/><line x1="16.1" y1="-4.3" x2="19.3" y2="-5.2" stroke="#4f868d" stroke-width="0.75"/><line x1="16.1" y1="4.3" x2="19.3" y2="5.2" stroke="#4f868d" stroke-width="0.75"/><line x1="11.8" y1="11.8" x2="14.1" y2="14.1" stroke="#4f868d" stroke-width="0.75"/><line x1="4.3" y1="16.1" x2="5.2" y2="19.3" stroke="#4f868d" stroke-width="0.75"/><line x1="-4.3" y1="16.1" x2="-5.2" y2="19.3" stroke="#4f868d" stroke-width="0.75"/><line x1="-11.8" y1="11.8" x2="-14.1" y2="14.1" stroke="#4f868d" stroke-width="0.75"/><line x1="-16.1" y1="4.3" x2="-19.3" y2="5.2" stroke="#4f868d" stroke-width="0.75"/><line x1="-16.1" y1="-4.3" x2="-19.3" y2="-5.2" stroke="#4f868d" stroke-width="0.75"/><line x1="-11.8" y1="-11.8" x2="-14.1" y2="-14.1" stroke="#4f868d" stroke-width="0.75"/><line x1="-4.3" y1="-16.1" x2="-5.2" y2="-19.3" stroke="#4f868d" stroke-width="0.75"/><circle r="16.7" fill="#649da8" stroke="#164a52" stroke-width="1.95"/><polygon points="-1.4,-9.5 7.5,-6.0 8.9,3.5 1.4,9.5 -7.5,6.0 -8.9,-3.5" fill="#86dcdc" stroke="#2a98a3" stroke-width="0.9" transform="translate(0.2,0.4)"/><polygon points="-1.2,-7.9 6.3,-5.0 7.4,2.9 1.2,7.9 -6.3,5.0 -7.4,-2.9" fill="#6fd0d3" transform="translate(0.2,0.4)"/><circle cx="0.2" cy="0.4" r="5.6" fill="#3fb3c0" opacity="0.55"/><path d="M-4.6,1.5 A4.9,4.9 0 1 1 2.5,4.8 M-2.6,-1.2 A3,3 0 1 1 -1,3.4 M-1.2,1.6 C-0.6,-0.4 0.6,-1.4 1.6,-0.2 C2.2,0.8 1.2,2 0.2,1.4 M3.2,5.2 A6.4,6.4 0 0 0 6,-2.4" fill="none" stroke="#1c8d9c" stroke-width="0.85" stroke-linecap="round"/></g>
<path d="M69.1,503.3 C69.1,500.1 87.4,500.1 87.4,503.3 L87.4,532 C87.7,541 90.60000000000001,548 91.2,555 C91.60000000000001,559 89.4,561.5 86.4,563.5 L67.1,574.8 C63.099999999999994,577.6 58.099999999999994,577.4 55.599999999999994,573.5 C53.099999999999994,570 54.599999999999994,565.5 57.099999999999994,561 L67.3,544 C68.69999999999999,541 69.1,538 69.1,534 Z" fill="#ebbfe2" stroke="#d678c4" stroke-width="1.25"/><path d="M91.0,556 C91.60000000000001,559 89.4,561.5 86.4,563.5 L67.1,574.8 C63.099999999999994,577.6 58.099999999999994,577.4 55.599999999999994,573.5 C57.099999999999994,572.5 61.099999999999994,573.4 65.6,571 L84.9,560 C87.9,558.5 89.80000000000001,557.5 91.0,556 Z" fill="#e0a0d4" opacity="0.75"/><ellipse cx="78.25" cy="502.90000000000003" rx="8.150000000000006" ry="1.4" fill="#ffffff" opacity="0.35"/><path d="M107.2,503.3 C107.2,500.1 125.8,500.1 125.8,503.3 L125.8,534 C125.8,538 126.2,541 127.6,544 L137.8,561 C140.3,565.5 141.8,570 139.3,573.5 C136.8,577.4 131.8,577.6 127.8,574.8 L108.2,563.5 C105.2,561.5 103.0,559 103.4,555 C104.0,548 106.9,541 107.2,532 Z" fill="#afd0ea" stroke="#74aadb" stroke-width="1.25"/><path d="M103.60000000000001,556 C103.0,559 105.2,561.5 108.2,563.5 L127.8,574.8 C131.8,577.6 136.8,577.4 139.3,573.5 C137.8,572.5 133.8,573.4 129.3,571 L109.7,560 C106.7,558.5 104.8,557.5 103.60000000000001,556 Z" fill="#96bfe2" opacity="0.75"/><ellipse cx="116.5" cy="502.90000000000003" rx="8.299999999999997" ry="1.4" fill="#ffffff" opacity="0.35"/><path d="M73.5,508.4 C73.5,505.2 91.8,505.2 91.8,508.4 L91.8,536 C92.1,545 95.0,552 95.6,559 C96.0,563 93.8,565.5 90.8,567.5 L71.5,578.5 C67.5,581.3000000000001 62.5,581.1 60.0,577.2 C57.5,573.7 59.0,569.2 61.5,564.7 L71.7,548 C73.1,545 73.5,542 73.5,538 Z" fill="#c5b5de" stroke="#9273cf" stroke-width="1.25"/><path d="M95.39999999999999,560 C96.0,563 93.8,565.5 90.8,567.5 L71.5,578.5 C67.5,581.3000000000001 62.5,581.1 60.0,577.2 C61.5,576.2 65.5,577.1 70.0,574.7 L89.3,564 C92.3,562.5 94.2,561.5 95.39999999999999,560 Z" fill="#ad95d3" opacity="0.75"/><ellipse cx="82.65" cy="508.0" rx="8.149999999999999" ry="1.4" fill="#ffffff" opacity="0.35"/><path d="M101.9,508.4 C101.9,505.2 120.1,505.2 120.1,508.4 L120.1,538 C120.1,542 120.5,545 121.89999999999999,548 L132.1,564.7 C134.6,569.2 136.1,573.7 133.6,577.2 C131.1,581.1 126.1,581.3000000000001 122.1,578.5 L102.9,567.5 C99.9,565.5 97.7,563 98.10000000000001,559 C98.7,552 101.60000000000001,545 101.9,536 Z" fill="#abd8b8" stroke="#52a96e" stroke-width="1.25"/><path d="M98.30000000000001,560 C97.7,563 99.9,565.5 102.9,567.5 L122.1,578.5 C126.1,581.3000000000001 131.1,581.1 133.6,577.2 C132.1,576.2 128.1,577.1 123.6,574.7 L104.4,564 C101.4,562.5 99.5,561.5 98.30000000000001,560 Z" fill="#8cc79e" opacity="0.75"/><ellipse cx="111.0" cy="508.0" rx="8.099999999999994" ry="1.4" fill="#ffffff" opacity="0.35"/><g transform="translate(237.6,537.9) rotate(-49)"><ellipse rx="34" ry="23.8" fill="#b08e73" stroke="#8a6a52" stroke-width="0.9"/><ellipse cx="-1.36" cy="-2.3800000000000003" rx="27.88" ry="18.088" fill="#bfa085"/><ellipse cx="-4.08" cy="-9.996" rx="12.24" ry="4.046" fill="#d4b998"/></g><g transform="translate(249.5,510.5) rotate(10)"><ellipse rx="5.4" ry="3.8" fill="#a07e63"/><ellipse rx="4.2" ry="2.6" fill="#d2b992"/></g><g transform="translate(257.7,525.5) rotate(0)"><ellipse rx="5.5" ry="5.5" fill="#a07e63"/><ellipse rx="4.3" ry="4.3" fill="#d2b992"/></g><g transform="translate(213,552.5) rotate(-10)"><ellipse rx="4.2" ry="5.4" fill="#a07e63"/><ellipse rx="3.0" ry="4.2" fill="#d2b992"/></g><g transform="translate(230.2,555) rotate(0)"><ellipse rx="5.6000000000000005" ry="5.6000000000000005" fill="#a07e63"/><ellipse rx="4.4" ry="4.4" fill="#d2b992"/></g><g transform="translate(221.7,565) rotate(25)"><ellipse rx="5.4" ry="3.8" fill="#a07e63"/><ellipse rx="4.2" ry="2.6" fill="#d2b992"/></g><g transform="translate(300.8,555.8) rotate(43)"><ellipse rx="24.7" ry="17.1" fill="#b08e73" stroke="#8a6a52" stroke-width="0.9"/><ellipse cx="-0.988" cy="-1.7100000000000002" rx="20.253999999999998" ry="12.996" fill="#bfa085"/><ellipse cx="-2.964" cy="-7.182" rx="8.892" ry="2.9070000000000005" fill="#d4b998"/></g><g transform="translate(290.5,538.5) rotate(-10)"><ellipse rx="4.8" ry="3.7" fill="#a07e63"/><ellipse rx="3.6" ry="2.5" fill="#d2b992"/></g><g transform="translate(286.2,550) rotate(0)"><ellipse rx="4.7" ry="4.7" fill="#a07e63"/><ellipse rx="3.5" ry="3.5" fill="#d2b992"/></g><g transform="translate(318,564.5) rotate(0)"><ellipse rx="3.8" ry="4.8" fill="#a07e63"/><ellipse rx="2.6" ry="3.6" fill="#d2b992"/></g><g transform="translate(245.5,581) rotate(17)"><ellipse rx="15.8" ry="11.2" fill="#b08e73" stroke="#8a6a52" stroke-width="0.9"/><ellipse cx="-0.632" cy="-1.1199999999999999" rx="12.956" ry="8.511999999999999" fill="#bfa085"/><ellipse cx="-1.896" cy="-4.704" rx="5.688" ry="1.904" fill="#d4b998"/></g><g transform="translate(257.3,589.5) rotate(35)"><ellipse rx="2.4" ry="3.5999999999999996" fill="#a07e63"/><ellipse rx="1.2" ry="2.4" fill="#d2b992"/></g><g transform="translate(281.4,601.2) rotate(-52)"><ellipse rx="29" ry="21.6" fill="#b08e73" stroke="#8a6a52" stroke-width="0.9"/><ellipse cx="-1.16" cy="-2.16" rx="23.779999999999998" ry="16.416" fill="#bfa085"/><ellipse cx="-3.48" cy="-9.072000000000001" rx="10.44" ry="3.6720000000000006" fill="#d4b998"/></g><g transform="translate(261.5,595) rotate(25)"><ellipse rx="3.2" ry="4.6" fill="#a07e63"/><ellipse rx="2.0" ry="3.4" fill="#d2b992"/></g><g transform="translate(259.8,613.3) rotate(-8)"><ellipse rx="3.9000000000000004" ry="5.0" fill="#a07e63"/><ellipse rx="2.7" ry="3.8" fill="#d2b992"/></g><g transform="translate(274.8,615.5) rotate(0)"><ellipse rx="5.3" ry="5.3" fill="#a07e63"/><ellipse rx="4.1" ry="4.1" fill="#d2b992"/></g><circle cx="1135.5" cy="519.7" r="29.2" fill="#aad3b5" stroke="#6fb37e" stroke-width="1"/><circle cx="1138.3" cy="522.6" r="18.4" fill="#72b38b" stroke="#5fa27a" stroke-width="0.8"/><circle cx="1048.5" cy="559.3" r="30.5" fill="#b5bbe0" stroke="#8088d2" stroke-width="1"/><circle cx="1050.6" cy="554.4" r="18.8" fill="#9a98d2" stroke="#8e8cca" stroke-width="0.8"/><path d="M1220.4,590.6 L1220.9,592.0 L1220.8,593.3 L1220.3,594.6 L1219.5,595.8 L1218.8,597.0 L1218.5,598.3 L1218.4,599.6 L1218.5,601.1 L1218.5,602.5 L1218.2,603.9 L1217.3,605.0 L1216.1,605.8 L1214.8,606.6 L1213.6,607.3 L1212.8,608.3 L1212.2,609.5 L1211.7,610.8 L1211.1,612.0 L1210.2,613.0 L1208.9,613.6 L1207.5,613.9 L1206.2,614.2 L1204.9,614.6 L1203.9,615.4 L1203.1,616.5 L1202.2,617.7 L1201.1,618.7 L1199.9,619.3 L1198.6,619.4 L1197.1,619.2 L1195.8,619.1 L1194.5,619.1 L1193.2,619.6 L1191.9,620.3 L1190.6,620.9 L1189.2,621.2 L1187.9,621.0 L1186.6,620.4 L1185.4,619.4 L1184.2,618.6 L1183.0,618.1 L1181.7,617.9 L1180.3,618.0 L1178.9,617.9 L1177.6,617.5 L1176.6,616.7 L1175.7,615.5 L1175.0,614.3 L1174.2,613.2 L1173.2,612.5 L1171.9,612.0 L1170.5,611.7 L1169.1,611.1 L1168.0,610.3 L1167.3,609.2 L1166.9,607.8 L1166.5,606.5 L1166.0,605.3 L1165.2,604.3 L1164.1,603.4 L1162.9,602.4 L1161.9,601.4 L1161.4,600.1 L1161.4,598.7 L1161.7,597.2 L1162.1,595.8 L1162.1,594.5 L1161.9,593.2 L1161.3,591.9 L1160.8,590.6 L1160.6,589.3 L1160.8,587.9 L1161.5,586.7 L1162.4,585.5 L1163.2,584.4 L1163.7,583.2 L1163.7,581.9 L1163.6,580.5 L1163.5,579.0 L1163.7,577.7 L1164.4,576.5 L1165.5,575.6 L1166.6,574.8 L1167.6,573.9 L1168.3,572.8 L1168.7,571.5 L1169.0,570.0 L1169.6,568.6 L1170.4,567.5 L1171.6,566.8 L1173.1,566.5 L1174.5,566.2 L1175.8,565.8 L1176.9,565.1 L1177.9,564.2 L1178.9,563.1 L1180.0,562.3 L1181.3,561.9 L1182.7,562.0 L1184.2,562.4 L1185.5,562.8 L1186.8,562.8 L1188.1,562.5 L1189.3,561.9 L1190.6,561.3 L1191.9,560.9 L1193.3,561.1 L1194.5,561.6 L1195.7,562.4 L1196.9,563.0 L1198.1,563.3 L1199.5,563.3 L1201.0,563.0 L1202.4,562.9 L1203.8,563.1 L1205.0,563.8 L1206.0,564.9 L1206.8,566.1 L1207.6,567.2 L1208.7,568.0 L1209.9,568.5 L1211.3,569.0 L1212.5,569.6 L1213.5,570.6 L1214.1,571.9 L1214.3,573.4 L1214.5,574.8 L1214.8,576.1 L1215.5,577.2 L1216.4,578.2 L1217.5,579.1 L1218.3,580.2 L1218.8,581.4 L1218.8,582.8 L1218.6,584.2 L1218.4,585.6 L1218.4,586.8 L1218.9,588.1 L1219.7,589.3 L1220.4,590.6 Z" fill="#c9b5e2" stroke="#ab93d2" stroke-width="1.1"/><path d="M1200.1,575.1 C1202.3,575.2 1206.2,575.9 1208.3,578.0 C1210.4,580.0 1212.3,584.2 1213.0,587.3 C1213.6,590.4 1213.3,593.5 1212.4,596.6 C1211.4,599.7 1209.6,603.3 1207.1,606.0 C1204.7,608.6 1201.1,610.9 1197.8,612.4 C1194.5,613.8 1190.6,614.8 1187.3,614.7 C1184.0,614.6 1180.4,613.4 1178.0,611.8 C1175.5,610.1 1173.7,606.9 1172.7,604.8 C1171.8,602.7 1172.0,600.8 1172.4,599.0 C1172.8,597.1 1173.5,595.0 1175.1,593.7 C1176.6,592.4 1179.2,591.5 1181.5,591.0 C1183.7,590.6 1186.8,591.6 1188.5,591.0 C1190.2,590.5 1191.1,589.4 1191.7,587.9 C1192.4,586.4 1191.9,583.9 1192.6,582.1 C1193.2,580.3 1194.2,578.2 1195.5,577.0 C1196.7,575.9 1198.0,574.9 1200.1,575.1 Z" fill="#b091c5" stroke="#9f80b8" stroke-width="0.9"/><g transform="translate(1105.1,632.0) rotate(0)"><line x1="-1.1" y1="-30.3" x2="-1.1" y2="-40.3" stroke="#6f8f9a" stroke-width="0.7"/><line x1="1.1" y1="-30.3" x2="1.1" y2="-40.3" stroke="#6f8f9a" stroke-width="0.7"/><rect x="-0.7" y="-40.3" width="1.4" height="9.999999999999996" fill="#ffffff"/><path d="M-0.9,-39.8 L-0.9,-44.3 L-5.2,-51.3 M0.9,-39.8 L0.9,-44.3 L5.2,-51.3" fill="none" stroke="#2f7fa6" stroke-width="1.6" stroke-linecap="round" stroke-linejoin="round"/><path d="M-3.4,-44.699999999999996 L-6.8,-50.099999999999994 M3.4,-44.699999999999996 L6.8,-50.099999999999994" fill="none" stroke="#2f7fa6" stroke-width="1.3" stroke-linecap="round"/></g><g transform="translate(1105.1,632.0) rotate(60)"><line x1="-1.1" y1="-30.3" x2="-1.1" y2="-40.3" stroke="#6f8f9a" stroke-width="0.7"/><line x1="1.1" y1="-30.3" x2="1.1" y2="-40.3" stroke="#6f8f9a" stroke-width="0.7"/><rect x="-0.7" y="-40.3" width="1.4" height="9.999999999999996" fill="#ffffff"/><path d="M-0.9,-39.8 L-0.9,-44.3 L-5.2,-51.3 M0.9,-39.8 L0.9,-44.3 L5.2,-51.3" fill="none" stroke="#2f7fa6" stroke-width="1.6" stroke-linecap="round" stroke-linejoin="round"/><path d="M-3.4,-44.699999999999996 L-6.8,-50.099999999999994 M3.4,-44.699999999999996 L6.8,-50.099999999999994" fill="none" stroke="#2f7fa6" stroke-width="1.3" stroke-linecap="round"/></g><g transform="translate(1105.1,632.0) rotate(120)"><line x1="-1.1" y1="-30.3" x2="-1.1" y2="-40.3" stroke="#6f8f9a" stroke-width="0.7"/><line x1="1.1" y1="-30.3" x2="1.1" y2="-40.3" stroke="#6f8f9a" stroke-width="0.7"/><rect x="-0.7" y="-40.3" width="1.4" height="9.999999999999996" fill="#ffffff"/><path d="M-0.9,-39.8 L-0.9,-44.3 L-5.2,-51.3 M0.9,-39.8 L0.9,-44.3 L5.2,-51.3" fill="none" stroke="#2f7fa6" stroke-width="1.6" stroke-linecap="round" stroke-linejoin="round"/><path d="M-3.4,-44.699999999999996 L-6.8,-50.099999999999994 M3.4,-44.699999999999996 L6.8,-50.099999999999994" fill="none" stroke="#2f7fa6" stroke-width="1.3" stroke-linecap="round"/></g><g transform="translate(1105.1,632.0) rotate(180)"><line x1="-1.1" y1="-30.3" x2="-1.1" y2="-40.3" stroke="#6f8f9a" stroke-width="0.7"/><line x1="1.1" y1="-30.3" x2="1.1" y2="-40.3" stroke="#6f8f9a" stroke-width="0.7"/><rect x="-0.7" y="-40.3" width="1.4" height="9.999999999999996" fill="#ffffff"/><path d="M-0.9,-39.8 L-0.9,-44.3 L-5.2,-51.3 M0.9,-39.8 L0.9,-44.3 L5.2,-51.3" fill="none" stroke="#2f7fa6" stroke-width="1.6" stroke-linecap="round" stroke-linejoin="round"/><path d="M-3.4,-44.699999999999996 L-6.8,-50.099999999999994 M3.4,-44.699999999999996 L6.8,-50.099999999999994" fill="none" stroke="#2f7fa6" stroke-width="1.3" stroke-linecap="round"/></g><g transform="translate(1105.1,632.0) rotate(240)"><line x1="-1.1" y1="-30.3" x2="-1.1" y2="-40.3" stroke="#6f8f9a" stroke-width="0.7"/><line x1="1.1" y1="-30.3" x2="1.1" y2="-40.3" stroke="#6f8f9a" stroke-width="0.7"/><rect x="-0.7" y="-40.3" width="1.4" height="9.999999999999996" fill="#ffffff"/><path d="M-0.9,-39.8 L-0.9,-44.3 L-5.2,-51.3 M0.9,-39.8 L0.9,-44.3 L5.2,-51.3" fill="none" stroke="#2f7fa6" stroke-width="1.6" stroke-linecap="round" stroke-linejoin="round"/><path d="M-3.4,-44.699999999999996 L-6.8,-50.099999999999994 M3.4,-44.699999999999996 L6.8,-50.099999999999994" fill="none" stroke="#2f7fa6" stroke-width="1.3" stroke-linecap="round"/></g><g transform="translate(1105.1,632.0) rotate(300)"><line x1="-1.1" y1="-30.3" x2="-1.1" y2="-40.3" stroke="#6f8f9a" stroke-width="0.7"/><line x1="1.1" y1="-30.3" x2="1.1" y2="-40.3" stroke="#6f8f9a" stroke-width="0.7"/><rect x="-0.7" y="-40.3" width="1.4" height="9.999999999999996" fill="#ffffff"/><path d="M-0.9,-39.8 L-0.9,-44.3 L-5.2,-51.3 M0.9,-39.8 L0.9,-44.3 L5.2,-51.3" fill="none" stroke="#2f7fa6" stroke-width="1.6" stroke-linecap="round" stroke-linejoin="round"/><path d="M-3.4,-44.699999999999996 L-6.8,-50.099999999999994 M3.4,-44.699999999999996 L6.8,-50.099999999999994" fill="none" stroke="#2f7fa6" stroke-width="1.3" stroke-linecap="round"/></g><circle cx="1105.1" cy="632.0" r="30.8" fill="#9fd0da" stroke="#5d9aa8" stroke-width="1"/><circle cx="1103.3" cy="629.0" r="18.8" fill="#76aebd" stroke="#5f98a8" stroke-width="0.8"/>
</svg>
</body></html>
